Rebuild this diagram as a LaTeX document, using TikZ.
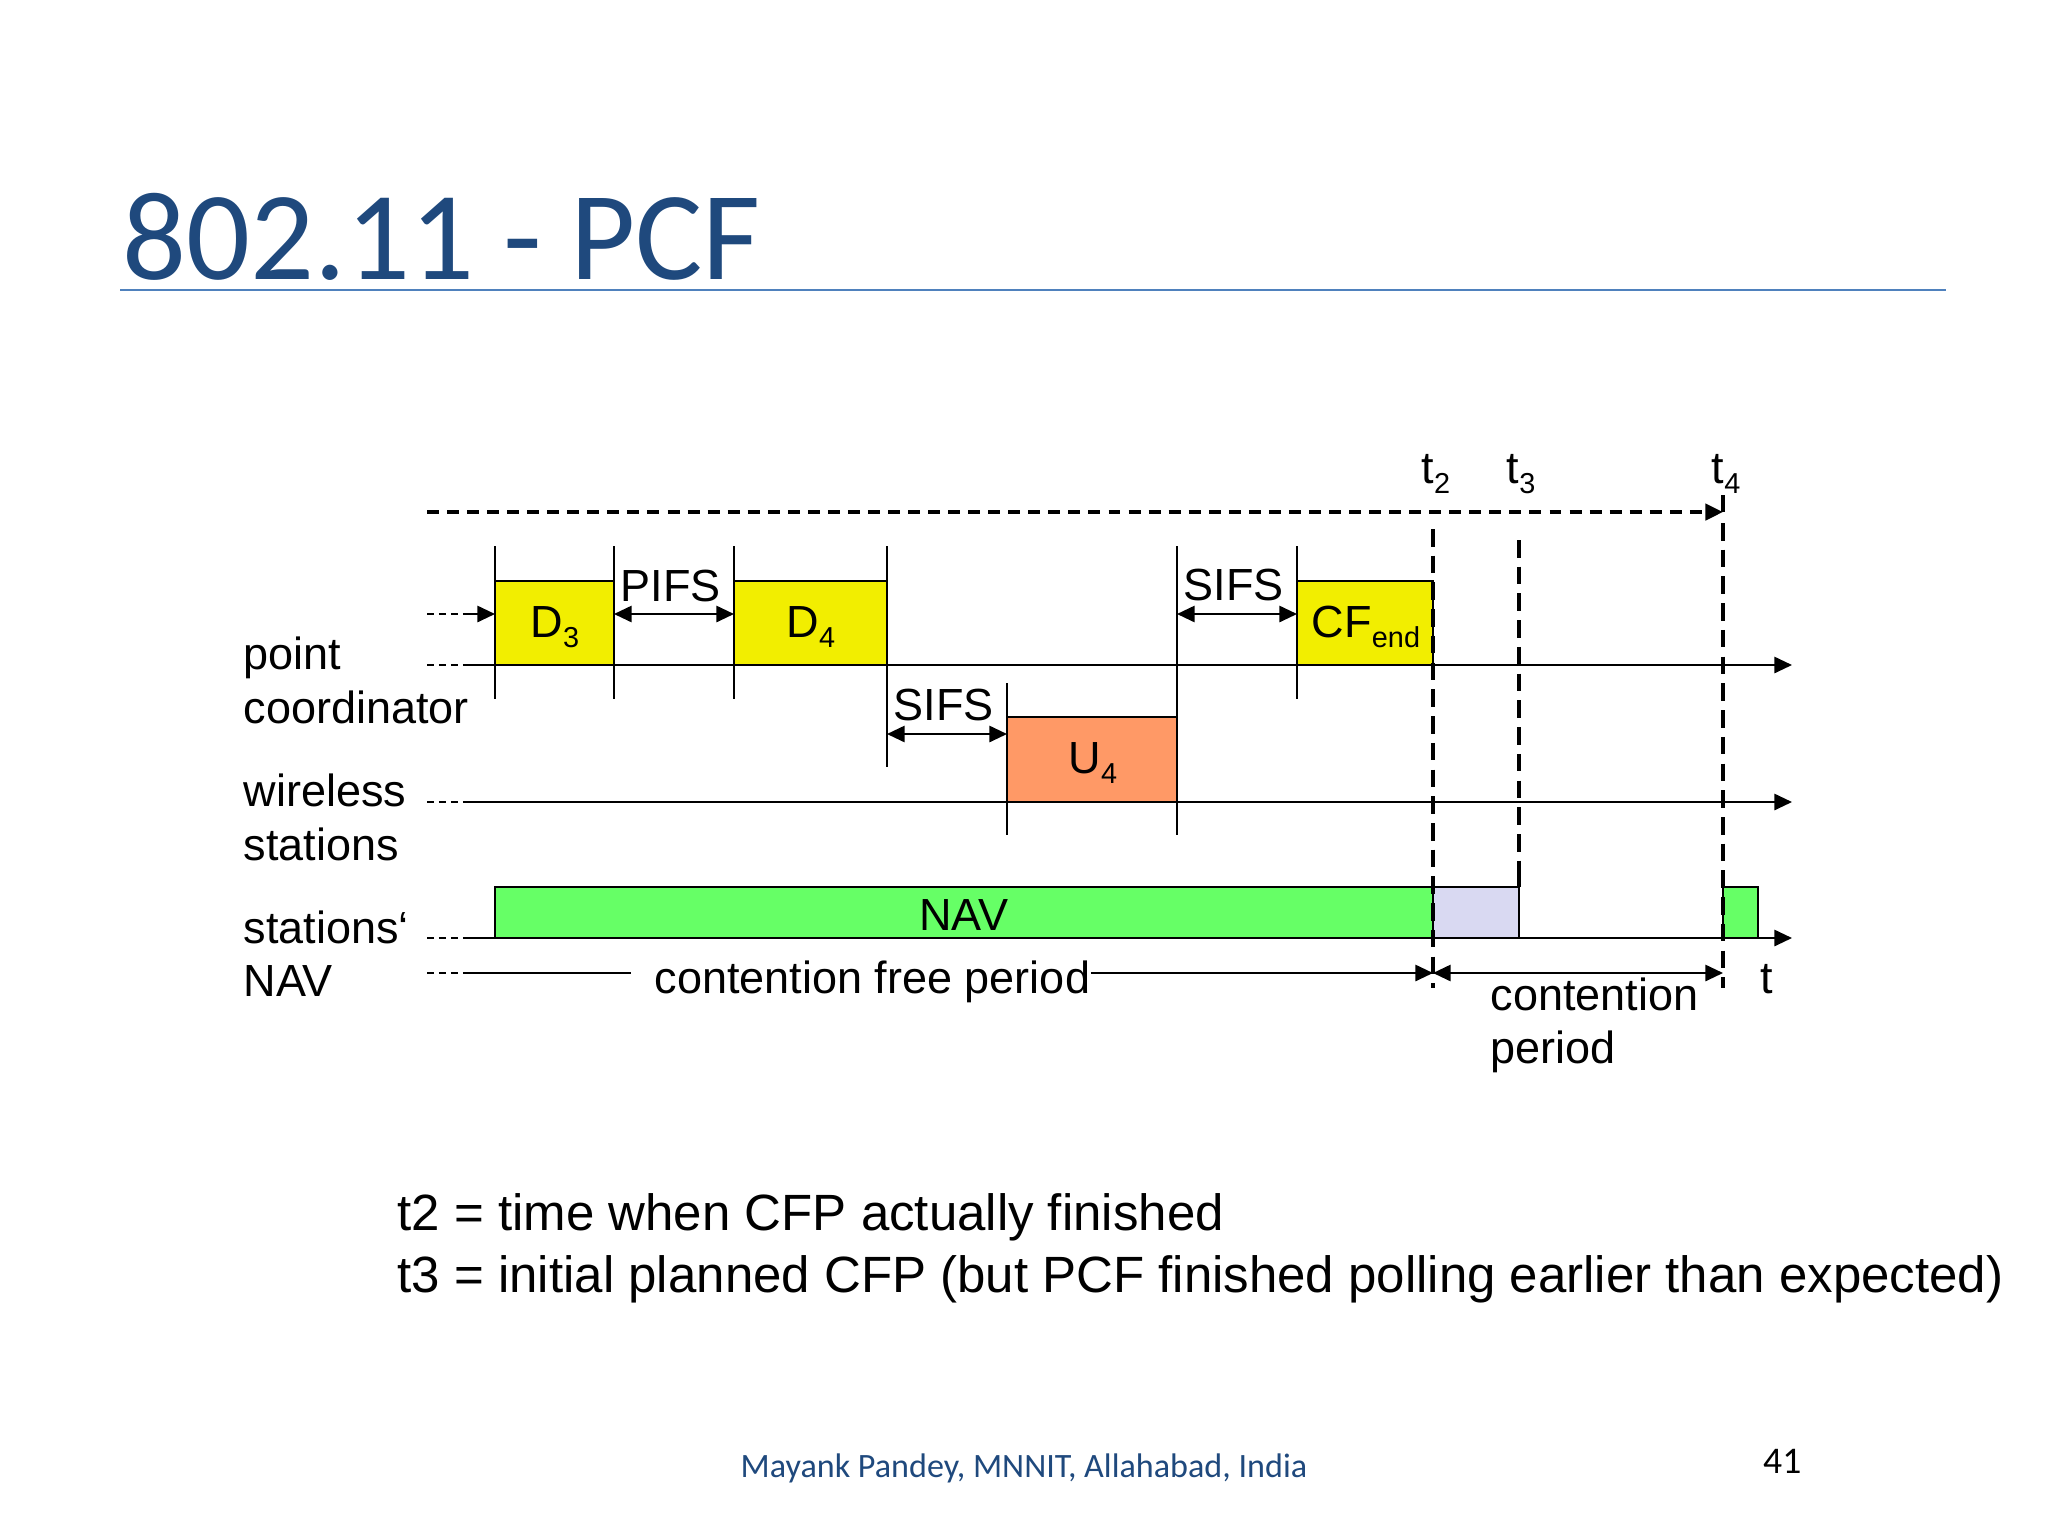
\documentclass[tikz,border=0pt]{standalone}
\usepackage{fontspec}
\setmainfont{Liberation Sans}
\newfontfamily\slidefont{Carlito}
\usetikzlibrary{arrows.meta,calc}
\definecolor{titleblue}{HTML}{1F497D}
\definecolor{ruleblue}{HTML}{4F81BD}
\definecolor{pktyellow}{HTML}{F2EE00}
\definecolor{pktorange}{HTML}{FF9966}
\definecolor{navgreen}{HTML}{66FF66}
\definecolor{navlilac}{HTML}{D9D9F2}
\newcommand{\sbs}[1]{\raisebox{-3pt}{\fontsize{8.2}{9}\selectfont #1}}

\begin{document}
\begin{tikzpicture}[x=0.01cm,y=-0.01cm,
  tri/.tip={Triangle[length=5pt,width=4.6pt]},
  tl/.style={line width=0.6pt},
  tick/.style={line width=0.5pt},
  lead/.style={line width=0.5pt,dash pattern=on 2pt off 1.4pt},
  hdash/.style={line width=1.05pt,dash pattern=on 3.4pt off 2.3pt},
  vdash/.style={line width=1.25pt,dash pattern=on 5pt off 2.6pt},
  pktbox/.style={draw,line width=0.6pt},
  lbl/.style={inner sep=0pt,font=\fontsize{12.8}{15}\selectfont},
  note/.style={inner sep=0pt,anchor=base west,font=\fontsize{14.5}{17}\selectfont}]
  \useasboundingbox (0,0) rectangle (2048,1536);

  % title
  \node[anchor=base west,inner sep=0pt,text=titleblue,font=\slidefont\fontsize{35.9}{40}\selectfont] (title) at (122,279) {802.11 - PCF};
  \coordinate (ruleL) at (120,290);
  \coordinate (ruleR) at (1946,290);
  \draw[ruleblue,line width=0.6pt] (ruleL) -- (ruleR);

  % time marks
  \coordinate (s) at (427,0);  \coordinate (m) at (470,0);
  \coordinate (a3) at (495,0); \coordinate (b3) at (614,0);
  \coordinate (a4) at (734,0); \coordinate (b4) at (887,0);
  \coordinate (au) at (1007,0); \coordinate (bu) at (1177,0);
  \coordinate (ac) at (1297,0);
  \coordinate (t2) at (1433,0); \coordinate (t3) at (1519,0);
  \coordinate (t4) at (1723,0); \coordinate (g4) at (1758,0);
  \coordinate (e) at (1792,0);
  % rows
  \coordinate (stub) at (0,495); \coordinate (top) at (0,512);
  \coordinate (hi) at (0,546);   \coordinate (bt) at (0,581);
  \coordinate (in) at (0,614);   \coordinate (pc) at (0,665);
  \coordinate (uhi) at (0,683);  \coordinate (lo) at (0,699);
  \coordinate (ut) at (0,717);   \coordinate (sf) at (0,734);
  \coordinate (dlo) at (0,767);  \coordinate (ws) at (0,802);
  \coordinate (wlo) at (0,835);  \coordinate (nt) at (0,887);
  \coordinate (nav) at (0,938);  \coordinate (cfp) at (0,973);
  \coordinate (bot) at (0,988);

  % frames
  \draw[pktbox,fill=pktyellow] (a3 |- bt) rectangle (b3 |- pc);
  \draw[pktbox,fill=pktyellow] (a4 |- bt) rectangle (b4 |- pc);
  \draw[pktbox,fill=pktorange] (au |- ut) rectangle (bu |- ws);
  \draw[pktbox,fill=pktyellow] (ac |- bt) rectangle (t2 |- pc);
  \draw[pktbox,fill=navgreen] (a3 |- nt) rectangle (t2 |- nav);
  \draw[pktbox,fill=navlilac] (t2 |- nt) rectangle (t3 |- nav);
  \draw[pktbox,fill=navgreen] (t4 |- nt) rectangle (g4 |- nav);

  % time lines
  \draw[lead] (s |- in) -- (m |- in);
  \draw[tl,-tri] (m |- in) -- (a3 |- in);
  \foreach \r in {pc,ws,nav} {
    \draw[lead] (s |- \r) -- (m |- \r);
    \draw[tl,-tri] (m |- \r) -- (e |- \r);
  }
  \draw[hdash,-tri] (s |- top) -- (t4 |- top);
  \draw[line width=1.1pt] (t4 |- stub) -- (t4 |- top);

  % ticks
  \foreach \x in {a3,b3,a4,ac} \draw[tick] (\x |- hi) -- (\x |- lo);
  \draw[tick] (b4 |- hi) -- (b4 |- dlo);
  \draw[tick] (au |- uhi) -- (au |- wlo);
  \draw[tick] (bu |- hi) -- (bu |- wlo);

  % gaps
  \draw[tl,tri-tri] (b3 |- in) -- (a4 |- in);
  \draw[tl,tri-tri] (b4 |- sf) -- (au |- sf);
  \draw[tl,tri-tri] (bu |- in) -- (ac |- in);
  \node[lbl,anchor=base west] (pifs) at (620,601) {PIFS};
  \node[lbl,anchor=base west] (sifsa) at (893,720) {SIFS};
  \node[lbl,anchor=base west] (sifsb) at (1183,600) {SIFS};

  % frame labels
  \node[lbl,anchor=base] (d3) at (555,637) {D\sbs{3}};
  \node[lbl,anchor=base] (d4) at (811,637) {D\sbs{4}};
  \node[lbl,anchor=base] (u4) at (1093,773) {U\sbs{4}};
  \node[lbl,anchor=base] (cfend) at (1366,637) {CF\sbs{end}};
  \node[lbl,anchor=base] (navl) at (964,930) {NAV};

  % t2, t3, t4
  \draw[vdash] (1433,529) -- (t2 |- bot);
  \draw[vdash] (1519,540) -- (t3 |- nt);
  \draw[line width=1.25pt] (1519,868) -- (t3 |- nt);
  \draw[vdash] (1723,523) -- (t4 |- bot);
  \node[lbl,anchor=base] (lt2) at (1436,483) {t\sbs{2}};
  \node[lbl,anchor=base] (lt3) at (1521,483) {t\sbs{3}};
  \node[lbl,anchor=base] (lt4) at (1726,483) {t\sbs{4}};

  % periods
  \coordinate (cfpgap) at (631,973);
  \draw[lead] (s |- cfp) -- (m |- cfp);
  \draw[tl] (m |- cfp) -- (cfpgap);
  \node[lbl,anchor=base west] (cfpl) at (654,993) {contention free period};
  \draw[tl,-tri] (cfpl.east |- cfp) -- (t2 |- cfp);
  \draw[tl,tri-tri] (t2 |- cfp) -- (t4 |- cfp);
  \node[lbl,anchor=base west] (cp1) at (1490,1010) {contention};
  \node[lbl,anchor=base west] (cp2) at (1490,1063) {period};
  \node[lbl,anchor=base west] (lt) at (1760,993) {t};

  % row names
  \node[lbl,anchor=base west] (pc1) at (243,669) {point};
  \node[lbl,anchor=base west] (pc2) at (243,723) {coordinator};
  \node[lbl,anchor=base west] (ws1) at (243,806) {wireless};
  \node[lbl,anchor=base west] (ws2) at (243,860) {stations};
  \node[lbl,anchor=base west] (nv1) at (243,943) {stations‘};
  \node[lbl,anchor=base west] (nv2) at (243,996) {NAV};

  % notes
  \node[note] (n1) at (397,1230) {t2 = time when CFP actually finished};
  \node[note] (n2) at (397,1292) {t3 = initial planned CFP (but PCF finished polling earlier than expected)};

  % footer
  \node[anchor=base west,inner sep=0pt,text=titleblue,font=\slidefont\fontsize{9.7}{11}\selectfont] (foot) at (740,1477) {Mayank Pandey, MNNIT, Allahabad, India};
  \node[anchor=base east,inner sep=0pt,font=\slidefont\fontsize{10.7}{12}\selectfont] (pg) at (1802,1473) {41};
\end{tikzpicture}
\end{document}
